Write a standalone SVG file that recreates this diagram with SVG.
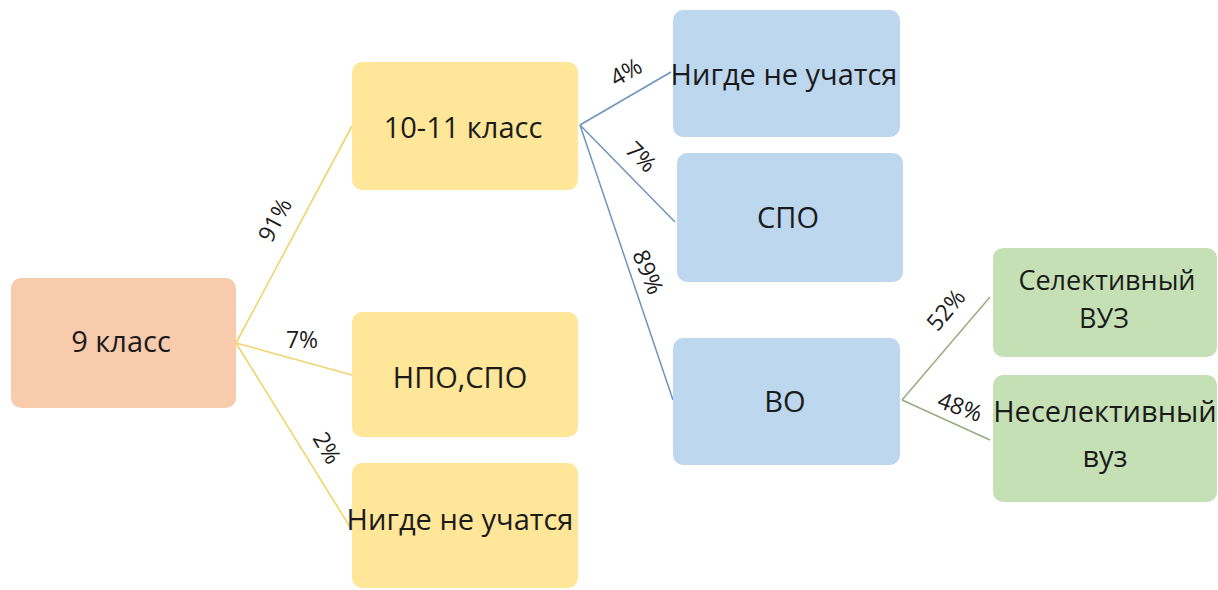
<svg xmlns="http://www.w3.org/2000/svg" width="1218" height="590" viewBox="0 0 1218 590">
<style>
.t{font-family:"Open Sans","Liberation Sans",sans-serif;fill:#1b1b1b;text-anchor:middle}
.n{font-size:29px}
.g{font-size:27px}
.p{font-size:23px}
.peach{fill:#F8CBAD}
.yel{fill:#FFE699}
.blue{fill:#BDD7EE}
.grn{fill:#C5E0B4}
.ly{stroke:#F2D36B;stroke-width:1.6;fill:none}
.lb{stroke:#6F93BC;stroke-width:1.5;fill:none}
.lg{stroke:#93AE80;stroke-width:1.5;fill:none}
</style>
<rect width="1218" height="590" fill="#ffffff"/>
<g id="connectors">
<line class="ly" x1="236" y1="343" x2="352" y2="126"/>
<line class="ly" x1="236" y1="343" x2="352" y2="375"/>
<line class="ly" x1="236" y1="343" x2="350" y2="527"/>
<line class="lb" x1="580" y1="125" x2="671" y2="72"/>
<line class="lb" x1="580" y1="125" x2="675" y2="222"/>
<line class="lb" x1="580" y1="125" x2="673" y2="400"/>
<line class="lg" x1="902" y1="400" x2="990" y2="297"/>
<line class="lg" x1="902" y1="400" x2="990" y2="440"/>
<text class="t p" transform="translate(275,220) rotate(-62)" y="8">91%</text>
<text class="t p" x="302" y="348">7%</text>
<text class="t p" transform="translate(327,448) rotate(60)" y="8">2%</text>
<text class="t p" transform="translate(626,72) rotate(-30)" y="8">4%</text>
<text class="t p" transform="translate(641,157) rotate(45)" y="8">7%</text>
<text class="t p" transform="translate(648,272) rotate(68)" y="8">89%</text>
<text class="t p" transform="translate(946,310) rotate(-50)" y="8">52%</text>
<text class="t p" transform="translate(960,407) rotate(20)" y="8">48%</text>
</g>
<g id="n9">
<rect class="peach" x="11" y="278" width="225" height="130" rx="10"/>
<text class="t n" x="121" y="352">9 класс</text>
</g>
<g id="n10">
<rect class="yel" x="352" y="62" width="226" height="128" rx="10"/>
<text class="t n" x="463" y="138">10-11 класс</text>
</g>
<g id="nnpo">
<rect class="yel" x="352" y="312" width="226" height="125" rx="10"/>
<text class="t n" x="460" y="388">НПО,СПО</text>
</g>
<g id="nnone1">
<rect class="yel" x="352" y="463" width="226" height="125" rx="10"/>
<text class="t n" x="460" y="530">Нигде не учатся</text>
</g>
<g id="nnone2">
<rect class="blue" x="673" y="10" width="227" height="127" rx="10"/>
<text class="t n" x="784" y="85">Нигде не учатся</text>
</g>
<g id="nspo">
<rect class="blue" x="677" y="153" width="226" height="129" rx="10"/>
<text class="t n" x="788" y="228">СПО</text>
</g>
<g id="nvo">
<rect class="blue" x="673" y="338" width="227" height="127" rx="10"/>
<text class="t n" x="785" y="412">ВО</text>
</g>
<g id="nsel">
<rect class="grn" x="993" y="248" width="224" height="109" rx="10"/>
<text class="t g" x="1107" y="290">Селективный</text>
<text class="t g" x="1104" y="328">ВУЗ</text>
</g>
<g id="nnesel">
<rect class="grn" x="993" y="375" width="224" height="127" rx="10"/>
<text class="t n" x="1105" y="422">Неселективный</text>
<text class="t n" x="1105" y="467">вуз</text>
</g>
</svg>
